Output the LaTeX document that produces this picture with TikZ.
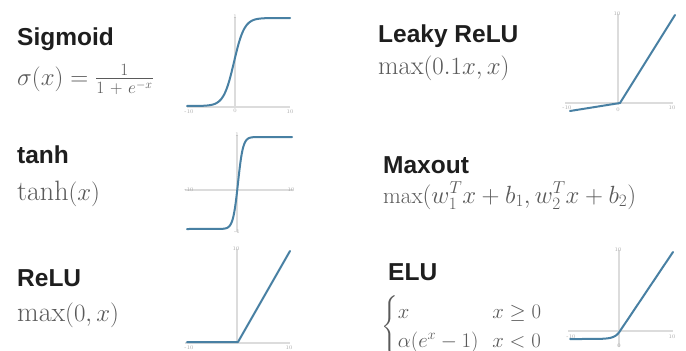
\documentclass[tikz,border=0pt]{standalone}
\usepackage{amsmath}
\usepackage{fontspec}
\setsansfont{Liberation Sans}
\definecolor{titlec}{HTML}{1E1E1E}
\definecolor{formc}{HTML}{5A5A5A}
\definecolor{axisc}{HTML}{DCDCDC}
\definecolor{curvec}{RGB}{72,128,163}
\definecolor{tickc}{HTML}{A8A8A8}
\begin{document}
\begin{tikzpicture}[x=1pt,y=-1pt]
\tikzset{
 titletext/.style={anchor=base west, inner sep=0pt, font=\fontsize{24.5}{24}\sffamily\bfseries, text=titlec},
 formula/.style={anchor=base west, inner sep=0pt, font=\fontsize{24}{29}\selectfont, text=formc},
 axisline/.style={draw=axisc, line width=1.5pt},
 curve/.style={draw=curvec, line width=2pt, line join=round, line cap=round},
 ticklab/.style={font=\fontsize{5.5}{6}\selectfont, text=tickc, inner sep=0.3pt}
}
\useasboundingbox (0,0) rectangle (686,351);
\fill[white] (0,0) rectangle (686,351);

% ---------- texts ----------
\node[titletext] (sigT) at (17,45) {Sigmoid};
\node[formula] (sigF) at (17,85) {$\sigma(x)=\frac{1}{1\mskip6mu+\mskip6mu e^{-x}}$};
\node[titletext] (tanhT) at (17,163) {tanh};
\node[formula, font=\fontsize{28}{30}\selectfont] (tanhF) at (17,200) {$\tanh(x)$};
\node[titletext] (reluT) at (17,286) {ReLU};
\node[formula, font=\fontsize{28}{30}\selectfont] (reluF) at (17,321) {$\max(0,x)$};
\node[titletext] (lreluT) at (378,42) {Leaky ReLU};
\node[formula, font=\fontsize{26.5}{30}\selectfont] (lreluF) at (378,74) {$\max(0.1x,x)$};
\node[titletext] (maxT) at (383,173) {Maxout};
\node[formula, font=\fontsize{23}{28}\selectfont] (maxF) at (383,203) {$\max(w_1^Tx+b_1,w_2^Tx+b_2)$};
\node[titletext] (eluT) at (388,280) {ELU};
\node[formula, anchor=west, font=\fontsize{22}{29}\selectfont] (eluF) at (381,327)
  {$\left\{\begin{array}{@{}l@{\hspace{14pt}}l@{}} x & x\ge0\\ \alpha(e^x-1) & x<0\end{array}\right.$};

% ---------- Sigmoid plot ----------
\draw[axisline] (235,17) -- (235,107);
\draw[axisline] (187,107) -- (290,107);
\draw[curve] (187,106) -- plot[domain=-9:9, samples=90, smooth] ({234+5.2*\x},{106-88/(1+exp(-\x))}) -- (290,18);
\node[ticklab] (s1) at (189,112) {-10};
\node[ticklab] (s2) at (235,111) {0};
\node[ticklab] (s3) at (290,112) {10};
\node[ticklab] (s4) at (235,17) {1};

% ---------- tanh plot ----------
\draw[axisline] (237,135) -- (237,232);
\draw[axisline] (185,190) -- (293,190);
\draw[curve] (187,229) -- plot[domain=-4:4, samples=80, smooth] ({238+5.0*\x},{183-46*((exp(2*\x)-1)/(exp(2*\x)+1))}) -- (292,137);
\node[ticklab] (t1) at (189,190) {-10};
\node[ticklab] (t2) at (291,190) {10};
\node[ticklab] (t3) at (237,135) {1};
\node[ticklab] (t4) at (237,232) {-1};

% ---------- ReLU plot ----------
\draw[axisline] (237,249) -- (237,343);
\draw[axisline] (185,343) -- (290,343);
\draw[curve] (187,342) -- (238,342) -- (290,251);
\node[ticklab] (r1) at (189,348) {-10};
\node[ticklab] (r2) at (289,348) {10};
\node[ticklab] (r3) at (236,249) {10};

% ---------- Leaky ReLU plot ----------
\draw[axisline] (618,14) -- (618,105);
\draw[axisline] (565,103) -- (673,103);
\draw[curve] (570,111) -- (620,103) -- (675,15);
\node[ticklab] (l1) at (567,108) {-10};
\node[ticklab] (l2) at (672,108) {10};
\node[ticklab] (l3) at (617,14) {10};
\node[ticklab] (l4) at (618,110) {0};

% ---------- ELU plot ----------
\draw[axisline] (619,250) -- (619,347);
\draw[axisline] (568,331) -- (673,331);
\draw[curve] (570,339) -- plot[domain=-9:0, samples=60, smooth] ({620+5*\x},{331-8*(exp(\x)-1)}) -- (673,252);
\node[ticklab] (e1) at (571,337) {-10};
\node[ticklab] (e2) at (672,337) {10};
\node[ticklab] (e3) at (618,250) {10};
\node[ticklab] (e4) at (619,346) {0};
\end{tikzpicture}
\end{document}
